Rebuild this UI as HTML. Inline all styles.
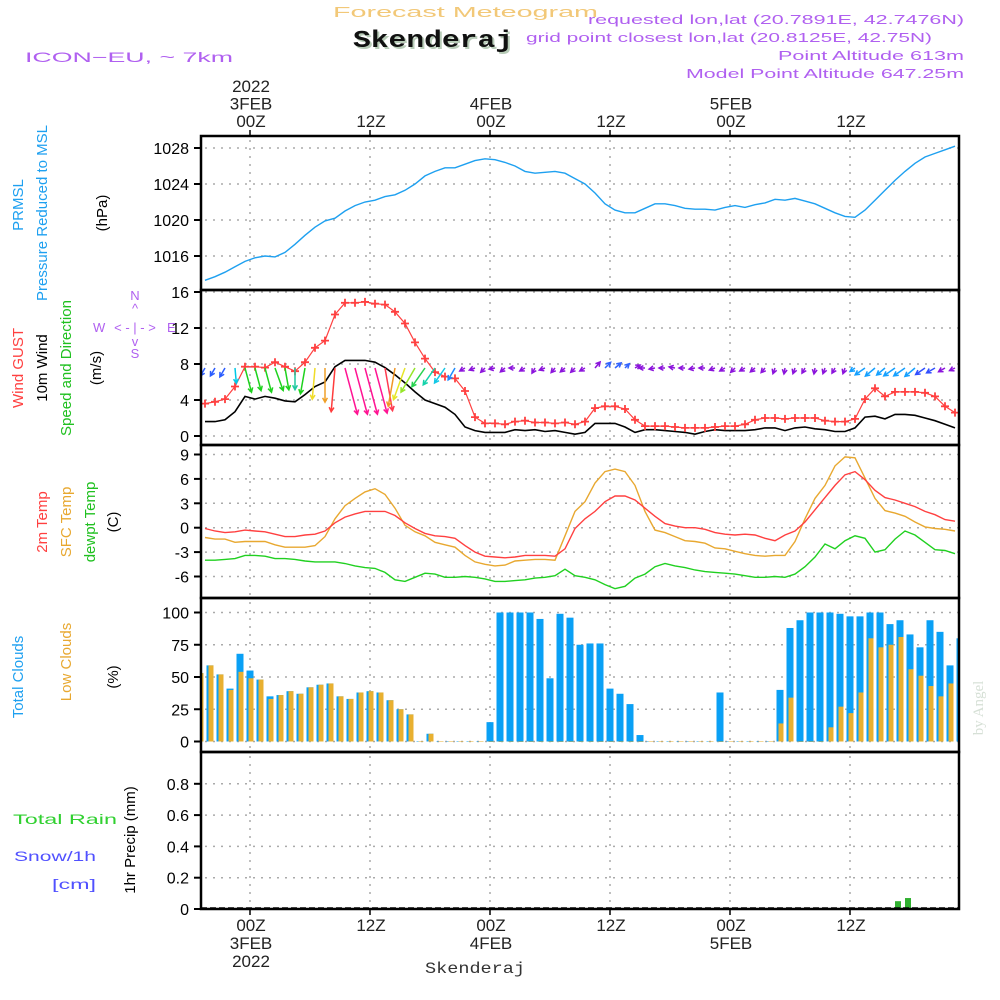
<!DOCTYPE html>
<html><head><meta charset="utf-8"><style>
html,body{margin:0;padding:0;background:#fff;}
svg{display:block;font-family:"Liberation Sans",sans-serif;}
</style></head><body>
<svg id="chart" xmlns="http://www.w3.org/2000/svg" width="1000" height="1000" viewBox="0 0 1000 1000">
<defs>
<clipPath id="c1"><rect x="201" y="137" width="758" height="153"/></clipPath>
<clipPath id="c2"><rect x="201" y="291" width="758" height="154"/></clipPath>
<clipPath id="c3"><rect x="201" y="446" width="758" height="152"/></clipPath>
<clipPath id="c4"><rect x="201" y="599" width="758" height="153"/></clipPath>
<clipPath id="c5"><rect x="201" y="753" width="758" height="156"/></clipPath>
</defs>
<text x="333" y="17" font-size="15" fill="#f2c878" textLength="265" lengthAdjust="spacingAndGlyphs">Forecast Meteogram</text>
<text x="355" y="49" font-size="24" font-weight="bold" font-family="Liberation Mono, monospace" fill="#b8ccb8" textLength="160" lengthAdjust="spacingAndGlyphs">Skenderaj</text>
<text x="353" y="47" font-size="24" font-weight="bold" font-family="Liberation Mono, monospace" fill="#111" textLength="160" lengthAdjust="spacingAndGlyphs">Skenderaj</text>
<text x="25" y="62" font-size="14" fill="#b060f0" textLength="208" lengthAdjust="spacingAndGlyphs">ICON−EU, ~ 7km</text>
<g fill="#b060f0" font-size="13">
<text x="588" y="24" textLength="376" lengthAdjust="spacingAndGlyphs">requested lon,lat (20.7891E, 42.7476N)</text>
<text x="526" y="42" textLength="406" lengthAdjust="spacingAndGlyphs">grid point closest lon,lat (20.8125E, 42.75N)</text>
<text x="778" y="60" textLength="186" lengthAdjust="spacingAndGlyphs">Point Altitude 613m</text>
<text x="686" y="78" textLength="278" lengthAdjust="spacingAndGlyphs">Model Point Altitude 647.25m</text>
</g>
<g id="grid" stroke="#aaa" stroke-width="1.5" stroke-dasharray="2,6" fill="none"></g>
<g id="marks"></g>
<g id="frame" stroke="#000" stroke-width="2.5" fill="none"></g>
<g id="labels"></g>
<g font-size="15">
<text transform="translate(23,205) rotate(-90)" text-anchor="middle" fill="#1ea0f0">PRMSL</text>
<text transform="translate(47,213) rotate(-90)" text-anchor="middle" fill="#1ea0f0">Pressure Reduced to MSL</text>
<text transform="translate(107,213) rotate(-90)" text-anchor="middle" fill="#000">(hPa)</text>
</g>
<g font-size="15">
<text transform="translate(23,368) rotate(-90)" text-anchor="middle" fill="#ff4040">Wind GUST</text>
<text transform="translate(47,368) rotate(-90)" text-anchor="middle" fill="#000">10m Wind</text>
<text transform="translate(71,368) rotate(-90)" text-anchor="middle" fill="#20c020">Speed and Direction</text>
<text transform="translate(101,368) rotate(-90)" text-anchor="middle" fill="#000">(m/s)</text>
</g>
<g fill="#b060f0" font-size="13">
<text x="135" y="300" text-anchor="middle">N</text><text x="135" y="313" text-anchor="middle">^</text>
<text x="93" y="332">W</text><text x="135" y="332" text-anchor="middle">&lt; - | - &gt;</text><text x="167" y="332">E</text>
<text x="135" y="346" text-anchor="middle">v</text><text x="135" y="358" text-anchor="middle">S</text>
</g>
<g font-size="15">
<text transform="translate(47,522) rotate(-90)" text-anchor="middle" fill="#ff4040">2m Temp</text>
<text transform="translate(71,522) rotate(-90)" text-anchor="middle" fill="#e8a830">SFC Temp</text>
<text transform="translate(95,522) rotate(-90)" text-anchor="middle" fill="#20c020">dewpt Temp</text>
<text transform="translate(118,522) rotate(-90)" text-anchor="middle" fill="#000">(C)</text>
</g>
<g font-size="15">
<text transform="translate(23,677) rotate(-90)" text-anchor="middle" fill="#1ea0f0">Total Clouds</text>
<text transform="translate(71,662) rotate(-90)" text-anchor="middle" fill="#e8a830">Low Clouds</text>
<text transform="translate(118,677) rotate(-90)" text-anchor="middle" fill="#000">(%)</text>
</g>
<g font-size="14">
<text x="13" y="824" fill="#30d030" textLength="104" lengthAdjust="spacingAndGlyphs">Total  Rain</text>
<text x="14" y="861" fill="#5050ff" textLength="82" lengthAdjust="spacingAndGlyphs">Snow/1h</text>
<text x="52" y="889" fill="#5050ff" textLength="44" lengthAdjust="spacingAndGlyphs">[cm]</text>
<text transform="translate(135,840) rotate(-90)" text-anchor="middle" font-size="15" fill="#000">1hr Precip (mm)</text>
</g>
<text transform="translate(983,708) rotate(-90)" text-anchor="middle" font-size="15" font-family="Liberation Serif, serif" fill="#d6e0d6">by Angel</text>
<text x="425" y="973" font-size="16" font-family="Liberation Mono, monospace" fill="#333" textLength="100" lengthAdjust="spacingAndGlyphs">Skenderaj</text>
</svg>
<script>
// ---------- data ----------
const pressure = [1013.3,1013.7,1014.2,1014.8,1015.4,1015.8,1016,1015.9,1016.4,1017.3,1018.3,1019.2,1019.9,1020.2,1021,1021.6,1022,1022.2,1022.6,1022.8,1023.3,1024,1024.9,1025.4,1025.8,1025.8,1026.2,1026.6,1026.8,1026.7,1026.4,1026,1025.4,1025.2,1025.3,1025.4,1025.2,1024.6,1024,1023,1021.8,1021.1,1020.8,1020.8,1021.3,1021.8,1021.8,1021.6,1021.3,1021.2,1021.2,1021.1,1021.4,1021.6,1021.4,1021.7,1021.9,1022.3,1022.2,1022.4,1022.1,1021.8,1021.3,1020.8,1020.4,1020.3,1021.1,1022.2,1023.3,1024.4,1025.4,1026.3,1027,1027.4,1027.8,1028.2];
const windGust = [3.6,3.8,4.1,5.5,7.7,7.7,7.6,8.2,7.7,7.2,8.2,9.8,10.6,13.5,14.8,14.8,14.9,14.7,14.6,13.8,12.5,10.4,8.6,7.1,6.6,6.4,5.0,2.1,1.4,1.4,1.3,1.6,1.7,1.5,1.5,1.4,1.5,1.3,1.6,3.1,3.3,3.3,3.0,1.8,1.1,1.1,1.1,1.0,0.9,0.9,0.9,1.0,1.1,1.1,1.3,1.8,2.0,2.0,1.9,2.0,2.0,2.0,1.7,1.6,1.6,1.9,4.1,5.3,4.4,4.9,4.9,4.9,4.8,4.4,3.3,2.6];
const windSpeed = [1.6,1.6,1.8,2.7,4.4,4.1,4.4,4.2,3.9,3.8,4.6,5.5,6.0,7.7,8.4,8.4,8.4,8.2,7.6,6.8,5.9,4.9,4.0,3.6,3.2,2.4,1.0,0.6,0.4,0.4,0.4,0.7,0.6,0.7,0.5,0.6,0.4,0.2,0.4,1.4,1.4,1.4,1.0,0.4,0.7,0.7,0.6,0.5,0.4,0.2,0.5,0.7,0.6,0.6,0.6,0.7,0.9,0.9,0.6,0.9,1.0,0.8,0.7,0.5,0.5,0.9,2.1,2.2,1.9,2.4,2.4,2.3,2.0,1.7,1.3,0.9];
const windDir = [30,30,30,355,345,345,345,340,350,0,10,5,0,5,345,345,345,345,350,10,20,30,35,35,35,30,60,70,45,80,50,90,60,30,70,40,50,45,60,220,225,230,225,240,90,80,90,100,90,80,90,70,60,45,60,50,40,20,10,20,30,10,20,30,20,55,55,50,50,55,55,50,55,60,60,65];
const windColor = ["#2a5cff","#2a5cff","#2a5cff","#00c8e6","#1ed21e","#1ed21e","#1ed21e","#1ed21e","#1ed21e","#20c8a0","#1ed21e","#f0dc28","#f0a028","#ff3c3c","#ff1493","#ff1493","#ff1493","#ff1493","#ff3c50","#f09628","#e6e628","#96e628","#28d250","#14d2aa","#14c8e6","#1e8cff","#8c14dc","#8c14dc","#8c14dc","#8c14dc","#8c14dc","#8c14dc","#8c14dc","#8c14dc","#8c14dc","#8c14dc","#8c14dc","#8c14dc","#8c14dc","#8c14dc","#3264ff","#3264ff","#3264ff","#8c14dc","#8c14dc","#8c14dc","#8c14dc","#8c14dc","#8c14dc","#8c14dc","#8c14dc","#8c14dc","#8c14dc","#8c14dc","#8c14dc","#8c14dc","#8c14dc","#8c14dc","#8c14dc","#8c14dc","#8c14dc","#8c14dc","#8c14dc","#8c14dc","#8c14dc","#14a0ff","#14a0ff","#14a0ff","#14a0ff","#14a0ff","#14a0ff","#14a0ff","#3250ff","#3250ff","#8c14dc","#8c14dc"];
const temp2m = [-0.1,-0.4,-0.6,-0.5,-0.3,-0.4,-0.5,-0.8,-1.1,-1.1,-0.9,-0.8,-0.4,0.6,1.3,1.7,2.0,2.0,2.0,1.5,0.6,-0.1,-0.7,-1.0,-1.1,-1.3,-2.2,-3.0,-3.5,-3.6,-3.7,-3.6,-3.4,-3.4,-3.4,-3.5,-2.6,-0.1,1.1,2.0,3.2,3.9,3.9,3.4,2.4,1.4,0.5,0.2,0,0,-0.2,-0.6,-0.8,-0.9,-0.8,-0.9,-1.3,-1.6,-0.9,-0.4,0.7,2.2,3.7,5.2,6.5,6.9,5.9,4.6,3.7,3.4,3.0,2.6,2.0,1.6,1.0,0.8];
const tempSfc = [-1.2,-1.4,-1.4,-1.8,-1.7,-1.7,-1.7,-2.1,-2.4,-2.4,-2.4,-2.2,-1.1,1.1,2.7,3.6,4.4,4.8,4.1,2.4,0.3,-0.5,-1.0,-1.8,-2.1,-2.4,-3.4,-4.2,-4.5,-4.7,-4.6,-4.1,-4.0,-3.9,-3.9,-4.0,-1.0,2.0,3.2,5.5,6.9,7.2,6.9,5.2,2.0,-0.3,-0.6,-1.1,-1.6,-1.7,-1.9,-2.5,-2.6,-2.9,-3.2,-3.4,-3.5,-3.4,-3.4,-1.7,1.1,3.6,5.2,7.6,8.7,8.6,6.1,3.6,2.1,1.8,1.4,0.7,0.1,-0.1,-0.2,-0.4];
const dewpoint = [-4.0,-4.0,-3.9,-3.8,-3.4,-3.4,-3.5,-3.8,-3.8,-3.9,-4.1,-4.2,-4.2,-4.2,-4.4,-4.7,-4.9,-5.0,-5.5,-6.4,-6.6,-6.1,-5.6,-5.7,-6.1,-6.1,-6.0,-6.1,-6.3,-6.6,-6.6,-6.5,-6.4,-6.2,-6.1,-5.9,-5.1,-5.9,-6.1,-6.4,-7.0,-7.5,-7.2,-6.2,-5.7,-4.8,-4.4,-4.7,-4.9,-5.2,-5.4,-5.5,-5.6,-5.7,-5.9,-6.1,-6.1,-6.0,-6.1,-5.7,-4.8,-3.6,-2.0,-2.6,-1.6,-1.0,-1.3,-3.0,-2.7,-1.4,-0.4,-0.9,-1.8,-2.7,-2.8,-3.2];
const totalClouds = [53,59,52,41,68,55,48,35,36,39,37,42,44,45,35,33,38,39,38,32,25,21,0,6,0,0,0,0,0,15,100,100,100,100,95,49,99,96,75,76,76,41,37,29,5,0,0,0,0,0,0,0,38,0,0,0,0,0,40,88,94,100,100,100,99,97,97,100,100,91,94,83,73,94,85,59,80];
const lowClouds = [53,59,52,40,54,49,48,33,36,39,37,42,44,45,35,33,38,39,38,32,25,21,0,6,0,0,0,0,0,0,0,0,0,0,0,0,0,0,0,0,0,0,0,0,0,0,0,0,0,0,0,0,0,0,0,0,0,0,14,34,0,0,0,11,27,22,38,80,73,75,81,56,51,43,35,45,64];
const rain = [0,0,0,0,0,0,0,0,0,0,0,0,0,0,0,0,0,0,0,0,0,0,0,0,0,0,0,0,0,0,0,0,0,0,0,0,0,0,0,0,0,0,0,0,0,0,0,0,0,0,0,0,0,0,0,0,0,0,0,0,0,0,0,0,0,0,0,0,0,0,0.05,0.07,0,0,0,0,0];
const timeTicks = [0,12,24,36,48,60];
const timeLabelsTop = [["2022","3FEB","00Z"],["12Z"],["4FEB","00Z"],["12Z"],["5FEB","00Z"],["12Z"]];
const timeLabelsBottom = [["00Z","3FEB","2022"],["12Z"],["00Z","4FEB"],["12Z"],["00Z","5FEB"],["12Z"]];
const pressureTicks = [1016,1020,1024,1028];
const windTicks = [0,4,8,12,16];
const tempTicks = [-6,-3,0,3,6,9];
const cloudTicks = [0,25,50,75,100];
const rainTicks = [0,0.2,0.4,0.6,0.8];
const rainTickLabels = ["0","0.2","0.4","0.6","0.8"];

// ---------- scales ----------
const NS = "http://www.w3.org/2000/svg";
function xH(h){ return 250 + 10*h; }
function xLine(i){ return xH(i - 4.5); }
function xBar(k){ return xH(k - 5); }
function yP(v){ return 220 - (v-1020)*9; }
function yW(v){ return 436 - v*9; }
function yT(v){ return 527.7 - v*8.133; }
function yC(v){ return 741.5 - v*1.29; }
function yR(v){ return 909 - v*156.5; }

function mk(tag, attrs, parent){
  const e = document.createElementNS(NS, tag);
  for (const k in attrs) e.setAttribute(k, attrs[k]);
  parent.appendChild(e);
  return e;
}
const grid = document.getElementById('grid');
const marks = document.getElementById('marks');
const frame = document.getElementById('frame');
const labels = document.getElementById('labels');

const panels = [
  {top:136,bot:290,ticks:pressureTicks,tl:pressureTicks.map(String),y:yP,name:'pressure'},
  {top:290,bot:445,ticks:windTicks,tl:windTicks.map(String),y:yW,name:'wind'},
  {top:445,bot:598,ticks:tempTicks,tl:tempTicks.map(String),y:yT,name:'temperature'},
  {top:598,bot:752,ticks:cloudTicks,tl:cloudTicks.map(String),y:yC,name:'cloud'},
  {top:752,bot:909,ticks:rainTicks,tl:rainTickLabels,y:yR,name:'precip'}
];
panels.forEach(p => {
  timeTicks.forEach(t => {
    const g = mk('line',{x1:xH(t),x2:xH(t),y1:p.top+4,y2:p.bot},grid);
    
    
  });
  p.ticks.forEach((v,j) => {
    const yy = p.y(v);
    const g = mk('line',{x1:205,x2:959,y1:yy,y2:yy},grid);
    
    
    const tk = mk('line',{x1:194,x2:201,y1:yy,y2:yy,stroke:'#000','stroke-width':2},labels);
    
    
    const tx = mk('text',{x:189,y:yy+6,'text-anchor':'end','font-size':16,fill:'#000'},labels);
    tx.textContent = p.tl[j];
    
    
  });
  const r = mk('rect',{x:201,y:p.top,width:758,height:p.bot-p.top},frame);
  
  
});
timeTicks.forEach((t,j) => {
  const a = mk('line',{x1:xH(t),x2:xH(t),y1:130,y2:136,stroke:'#000','stroke-width':1.5},labels);
  
  
  const top = timeLabelsTop[j];
  top.forEach((s,n) => {
    const tx = mk('text',{x:xH(t)+1,y:127-(top.length-1-n)*17.5,'text-anchor':'middle','font-size':17,fill:'#222'},labels);
    tx.textContent = s;
    
    
  });
  const b = mk('line',{x1:xH(t),x2:xH(t),y1:909,y2:915,stroke:'#000','stroke-width':1.5},labels);
  
  
  timeLabelsBottom[j].forEach((s,n) => {
    const tx = mk('text',{x:xH(t)+1,y:931+n*18,'text-anchor':'middle','font-size':17,fill:'#222'},labels);
    tx.textContent = s;
    
    
  });
});

function path(arr, yf, color, clip, name, w){
  const d = arr.map((v,i) => (i?'L':'M')+xLine(i).toFixed(1)+','+yf(v).toFixed(1)).join(' ');
  const p = mk('path',{d:d,fill:'none',stroke:color,'stroke-width':w||1.4,'clip-path':'url(#'+clip+')'},marks);
  
  
}
path(pressure, yP, '#1ea0f0', 'c1', 'pressure-line');
path(windSpeed, yW, '#000', 'c2', 'wind-speed-line', 1.6);
path(windGust, yW, '#ff4040', 'c2', 'wind-gust-line', 1.2);
windGust.forEach((v,i) => {
  const x = xLine(i), y = yW(v);
  const m = mk('path',{d:`M${x-4},${y}H${x+4}M${x},${y-4}V${y+4}`,stroke:'#ff4040','stroke-width':1.8,'clip-path':'url(#c2)'},marks);
  
  
});
windDir.forEach((dir,i) => {
  const x0 = xLine(i), y0 = 368;
  const L = Math.max(6, windSpeed[i]*5.7);
  const r = dir*Math.PI/180;
  const ux = -Math.sin(r), uy = Math.cos(r);
  const x1 = x0 + ux*L, y1 = y0 + uy*L;
  const h = 5, a = 0.5;
  const hx1 = x1 - h*(ux*Math.cos(a) - uy*Math.sin(a)), hy1 = y1 - h*(uy*Math.cos(a) + ux*Math.sin(a));
  const hx2 = x1 - h*(ux*Math.cos(a) + uy*Math.sin(a)), hy2 = y1 - h*(uy*Math.cos(a) - ux*Math.sin(a));
  const ar = mk('path',{d:`M${x0},${y0}L${x1},${y1}M${hx1},${hy1}L${x1},${y1}L${hx2},${hy2}`,stroke:windColor[i],'stroke-width':1.5,fill:'none','clip-path':'url(#c2)'},marks);
  
  
});
path(tempSfc, yT, '#e8a830', 'c3', 'sfc-temp-line');
path(temp2m, yT, '#ff4040', 'c3', '2m-temp-line');
path(dewpoint, yT, '#20d020', 'c3', 'dewpoint-line');
totalClouds.forEach((v,k) => {
  const x = xBar(k);
  const b = mk('rect',{x:x-3.5,y:yC(v),width:7,height:Math.max(0.5,741.5-yC(v)),fill:'#0aa0f5','clip-path':'url(#c4)'},marks);
  
  
});
lowClouds.forEach((v,k) => {
  const x = xBar(k);
  const b = mk('rect',{x:x-1.5,y:yC(v),width:5,height:Math.max(0.5,741.5-yC(v)),fill:'#e8b030','clip-path':'url(#c4)'},marks);
  
  
});
rain.forEach((v,k) => {
  if (v <= 0) return;
  const x = xBar(k) - 2;
  const b = mk('rect',{x:x-3,y:yR(v),width:6,height:909-yR(v),fill:'#30b030','clip-path':'url(#c5)'},marks);
  
  
});
const base = mk('line',{x1:201,x2:959,y1:908,y2:908,stroke:'#000','stroke-width':1.5,'stroke-dasharray':'6,3'},marks);


</script>
</body></html>
